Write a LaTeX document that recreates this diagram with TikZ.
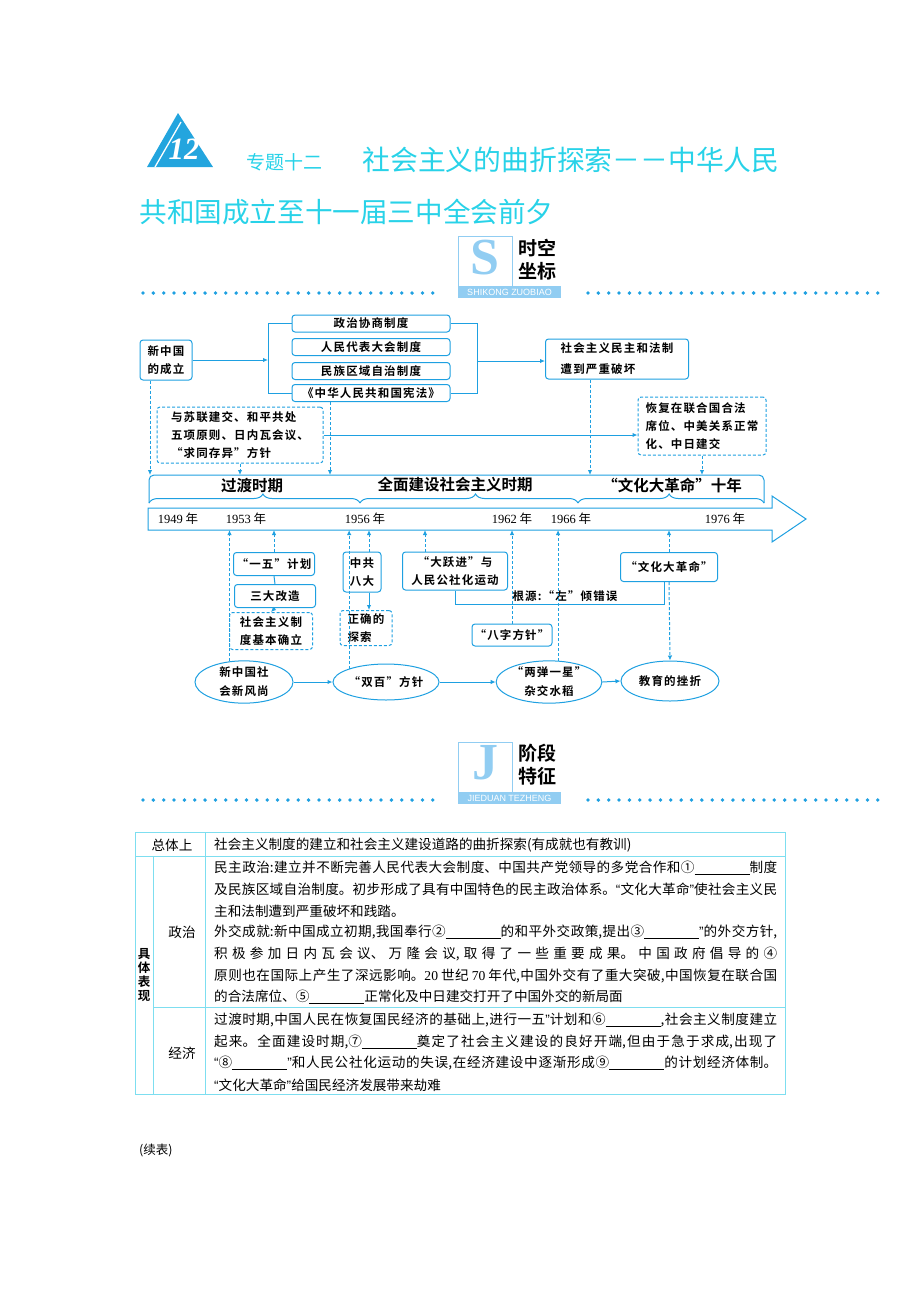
\documentclass[tikz,border=0pt]{standalone}
\usepackage{fontspec}
\setmainfont{Noto Sans CJK SC}[BoldFont={Noto Sans CJK SC Bold}]
\newfontfamily\kai{Noto Sans CJK SC Bold}[LetterSpace=10]
\newfontfamily\yrfont{Liberation Serif}
\newfontfamily\latsans{Liberation Sans}
\XeTeXlinebreaklocale "zh"
\XeTeXlinebreakskip=0pt plus 1pt
\usetikzlibrary{arrows.meta,decorations.pathreplacing,shapes.geometric}
\definecolor{lineblue}{RGB}{30,160,225}
\definecolor{titlecyan}{RGB}{40,210,232}
\definecolor{logoblue}{RGB}{35,165,222}
\definecolor{paleblue}{RGB}{145,205,242}
\definecolor{tabline}{RGB}{125,222,240}
\newcommand\blank{\rule[-2pt]{55pt}{0.6pt}}
\newcommand\qo{{\latsans “}}
\newcommand\qc{{\latsans ”}}
\newcommand\jline[1]{\parbox{563pt}{\XeTeXlinebreakskip=0pt plus 1fil\parfillskip=0pt #1}}
\newcommand\yr[1]{{\yrfont #1} 年}
\tikzset{
  box/.style={draw=lineblue,line width=1pt,rounded corners=3pt,fill=white,inner sep=1pt,align=center,font=\kai\fontsize{11.5}{18}\selectfont},
  dbox/.style={box,dash pattern=on 3pt off 2pt},
  oval/.style={ellipse,draw=lineblue,line width=1pt,fill=white,inner sep=0pt,align=left,font=\kai\fontsize{11.5}{19}\selectfont},
  line/.style={draw=lineblue,line width=1pt},
  link/.style={line,-{Latex[length=5pt,width=4.5pt]}},
  dlink/.style={link,dash pattern=on 3pt off 2pt},
  period/.style={font=\bfseries\fontsize{15.5}{15.5}\selectfont},
  year/.style={font=\fontsize{12.5}{12.5}\selectfont},
  cell/.style={anchor=west,inner sep=0pt,font=\fontsize{13.6}{16}\selectfont},
  logoletter/.style={inner sep=0pt,text=paleblue,font=\yrfont\bfseries\fontsize{52}{52}\selectfont},
  logobar/.style={inner sep=0pt,text=white,font=\latsans\fontsize{9}{9}\selectfont}
}
\begin{document}
\begin{tikzpicture}[x=1pt,y=-1pt]
\useasboundingbox (0,0) rectangle (920,1302);
\fill[logoblue] (147,167) -- (178,113) -- (213,167) -- cycle;
\draw[white,line width=1.3pt] (155,167) -- (181,122);
\node[text=white,font=\yrfont\bfseries\itshape\fontsize{31}{31}\selectfont] (num) at (184,149) {12};
\node[anchor=west,text=titlecyan,font=\fontsize{19}{19}\selectfont] (zt) at (243,162) {专题十二};
\node[anchor=west,text=titlecyan,font=\fontsize{27.8}{28}\selectfont] (t1) at (359,160) {社会主义的曲折探索－－中华人民};
\node[anchor=west,text=titlecyan,font=\fontsize{27.6}{28}\selectfont] (t2) at (136,212) {共和国成立至十一届三中全会前夕};
\draw[paleblue,line width=0.8pt] (458,236) rectangle (512,286);
\node[logoletter] (slet) at (485,258) {S};
\fill[paleblue] (458,286) rectangle (561,298);
\node[logobar] (sbar) at (509.5,292.5) {SHIKONG\ ZUOBIAO};
\node[align=left,font=\bfseries\fontsize{19}{23}\selectfont] (stxt) at (537,260) {时空\\坐标};
\foreach \x in {0,...,28} {
  \fill[lineblue] (143+\x*10.35,293) circle (1.9);
  \fill[lineblue] (588+\x*10.35,293) circle (1.9);
}
\node[box,minimum width=52,minimum height=40] (xzg) at (166,360) {新中国\\的成立};
\node[box,minimum width=158,minimum height=17] (zx) at (371,323.5) {政治协商制度};
\node[box,minimum width=158,minimum height=17] (rd) at (371,347) {人民代表大会制度};
\node[box,minimum width=158,minimum height=17] (mz) at (371,371) {民族区域自治制度};
\node[box,minimum width=158,minimum height=17] (xf) at (371,393) {《中华人民共和国宪法》};
\node[box,align=left,minimum width=143,minimum height=40,font=\kai\fontsize{11.5}{21}\selectfont] (ph) at (617,359) {社会主义民主和法制\\遭到严重破坏};
\node[dbox,align=left,minimum width=166,minimum height=56] (wj) at (240,435) {与苏联建交、和平共处\\五项原则、日内瓦会议、\\“求同存异”方针};
\node[dbox,align=left,minimum width=128,minimum height=58] (hf) at (702,426) {恢复在联合国合法\\席位、中美关系正常\\化、中日建交};
\coordinate (lb) at (268,361);
\coordinate (rb) at (477,361);
\draw[link] (xzg.east) -- (xzg.east -| lb);
\draw[line] (zx.west) -| (xf.west -| lb) -- (xf.west);
\draw[line] (zx.east) -| (xf.east -| rb) -- (xf.east);
\draw[link] (rb) -- (rb -| ph.west);
\draw[link] (wj.east) -- (wj.east -| hf.west);
\coordinate (ptop) at (0,475);
\coordinate (tlb) at (0,530);
\draw[dlink] ([xshift=-16pt]xzg.south) -- ([xshift=-16pt]xzg.south |- ptop);
\draw[dlink] (wj.south) -- (wj.south |- ptop);
\draw[dlink] ([xshift=-41pt]xf.south) -- ([xshift=-41pt]xf.south |- ptop);
\draw[dlink] ([xshift=-27pt]ph.south) -- ([xshift=-27pt]ph.south |- ptop);
\draw[dlink] (hf.south) -- (hf.south |- ptop);
\draw[line,rounded corners=5pt] (149,503) -- (149,475) -- (764,475) -- (764,503);
\draw[line,decorate,decoration={brace,amplitude=9pt,aspect=0.54}] (149,503) -- (360,503);
\draw[line,decorate,decoration={brace,amplitude=9pt,aspect=0.53}] (360,503) -- (578,503);
\draw[line,decorate,decoration={brace,amplitude=9pt,aspect=0.49}] (578,503) -- (764,503);
\node[period] (gd) at (252,486) {过渡时期};
\node[period] (qm) at (455,485) {全面建设社会主义时期};
\node[period] (wg) at (672,485) {“文化大革命”十年};
\draw[line,fill=white] (148,508) -- (772,508) -- (772,496) -- (806,519) -- (772,542) -- (772,530) -- (148,530) -- cycle;
\node[year] (y49) at (178,519) {\yr{1949}};
\node[year] (y53) at (246,519) {\yr{1953}};
\node[year] (y56) at (365,519) {\yr{1956}};
\node[year] (y62) at (512,519) {\yr{1962}};
\node[year] (y66) at (571,519) {\yr{1966}};
\node[year] (y76) at (725,519) {\yr{1976}};
\node[box,minimum width=81,minimum height=23] (yiwu) at (274,564) {“一五”计划};
\node[box,minimum width=81,minimum height=23] (sdgz) at (275,596) {三大改造};
\node[dbox,align=left,minimum width=83,minimum height=37] (queli) at (271,631) {社会主义制\\度基本确立};
\node[box,minimum width=38,minimum height=40] (bada) at (362,572) {中共\\八大};
\node[dbox,align=left,minimum width=52,minimum height=35] (tansuo) at (366,628) {正确的\\探索};
\node[box,minimum width=105,minimum height=38] (dyj) at (455,571) {“大跃进”与\\人民公社化运动};
\node[box,minimum width=97,minimum height=29] (whg) at (669,567) {“文化大革命”};
\node[box,minimum width=80,minimum height=22] (bazi) at (512,635) {“八字方针”};
\node[oval,minimum width=98,minimum height=38] (xfs) at (244,682) {新中国社\\会新风尚};
\node[oval,minimum width=106,minimum height=36] (sb) at (386,682) {“双百”方针};
\node[oval,align=center,minimum width=98,minimum height=40] (ldyx) at (549,682) {“两弹一星”\\杂交水稻};
\node[oval,minimum width=98,minimum height=40] (jiaoyu) at (670,681) {教育的挫折};
\draw[line] (yiwu.south) -- (sdgz.north);
\draw[link] (sdgz.south) -- (queli.north);
\draw[link] ([xshift=7pt]bada.south) -- ([xshift=7pt]bada.south |- tansuo.north);
\coordinate (gy) at (455,604);
\draw[line] (dyj.south) -- (gy) -| ([xshift=-5pt]whg.south);
\node[font=\kai\fontsize{11.5}{11.5}\selectfont] (gyl) at (565,596) {根源:“左”倾错误};
\draw[dlink] (xfs.125) -- (xfs.125 |- tlb);
\draw[dlink] (yiwu.north) -- (yiwu.north |- tlb);
\draw[dlink] (sb.160) -- (sb.160 |- tlb);
\draw[dlink] ([xshift=7pt]bada.north) -- ([xshift=7pt]bada.north |- tlb);
\draw[dlink] ([xshift=-30pt]dyj.north) -- ([xshift=-30pt]dyj.north |- tlb);
\draw[dlink] (bazi.north) -- (bazi.north |- tlb);
\draw[dlink] (ldyx.67) -- (ldyx.67 |- tlb);
\draw[dlink] (whg.north) -- (whg.north |- tlb);
\draw[dlink] (whg.south) -- (jiaoyu.north);
\draw[link] (xfs.east) -- (sb.west);
\draw[link] (sb.east) -- (ldyx.west);
\draw[link] (ldyx.east) -- (jiaoyu.west);
\draw[paleblue,line width=0.8pt] (458,742) rectangle (512,792);
\node[logoletter] (jlet) at (485,763) {J};
\fill[paleblue] (458,792) rectangle (561,804);
\node[logobar] (jbar) at (509.5,798.5) {JIEDUAN\ TEZHENG};
\node[align=left,font=\bfseries\fontsize{19}{23}\selectfont] (jtxt) at (537,765) {阶段\\特征};
\foreach \x in {0,...,28} {
  \fill[lineblue] (143+\x*10.35,800) circle (1.9);
  \fill[lineblue] (588+\x*10.35,800) circle (1.9);
}
\draw[tabline,line width=0.8pt] (135,832) rectangle (785,1094);
\draw[tabline,line width=0.8pt] (135,856) -- (785,856) (153,1007) -- (785,1007) (205,832) -- (205,1094) (153,856) -- (153,1094);
\node[font=\fontsize{13.6}{16}\selectfont] (zt1) at (172,845) {总体上};
\node[font=\fontsize{13.6}{16}\selectfont] (zz) at (182,932) {政治};
\node[font=\fontsize{13.6}{16}\selectfont] (jj) at (182,1053) {经济};
\node[align=center,font=\bfseries\fontsize{12.5}{14}\selectfont] (jtbx) at (144,975) {具\\体\\表\\现};
\node[cell] (r0) at (214,845) {社会主义制度的建立和社会主义建设道路的曲折探索(有成就也有教训)};
\node[cell] (p1) at (214,868) {\jline{民主政治:建立并不断完善人民代表大会制度、中国共产党领导的多党合作和①\blank 制度}};
\node[cell] (p2) at (214,889) {\jline{及民族区域自治制度。初步形成了具有中国特色的民主政治体系。\qo 文化大革命\qc 使社会主义民}};
\node[cell] (p3) at (214,911) {主和法制遭到严重破坏和践踏。};
\node[cell] (p4) at (214,932) {\jline{外交成就:新中国成立初期,我国奉行②\blank 的和平外交政策,提出③\blank\qc 的外交方针,}};
\node[cell] (p5) at (214,954) {\jline{积极参加日内瓦会议、万隆会议,取得了一些重要成果。中国政府倡导的④}};
\node[cell] (p6) at (214,976) {\jline{原则也在国际上产生了深远影响。{\yrfont 20} 世纪 {\yrfont 70} 年代,中国外交有了重大突破,中国恢复在联合国}};
\node[cell] (p7) at (214,997) {的合法席位、⑤\blank 正常化及中日建交打开了中国外交的新局面};
\node[cell] (e1) at (214,1020) {\jline{过渡时期,中国人民在恢复国民经济的基础上,进行一五\qc 计划和⑥\blank,社会主义制度建立}};
\node[cell] (e2) at (214,1042) {\jline{起来。全面建设时期,⑦\blank 奠定了社会主义建设的良好开端,但由于急于求成,出现了}};
\node[cell] (e3) at (214,1063) {\jline{\qo⑧\blank\qc 和人民公社化运动的失误,在经济建设中逐渐形成⑨\blank 的计划经济体制。}};
\node[cell] (e4) at (214,1085) {\qo 文化大革命\qc 给国民经济发展带来劫难};
\node[anchor=west,inner sep=0pt,font=\fontsize{12.5}{14}\selectfont] (xb) at (139,1150) {(续表)};
\end{tikzpicture}
\end{document}
